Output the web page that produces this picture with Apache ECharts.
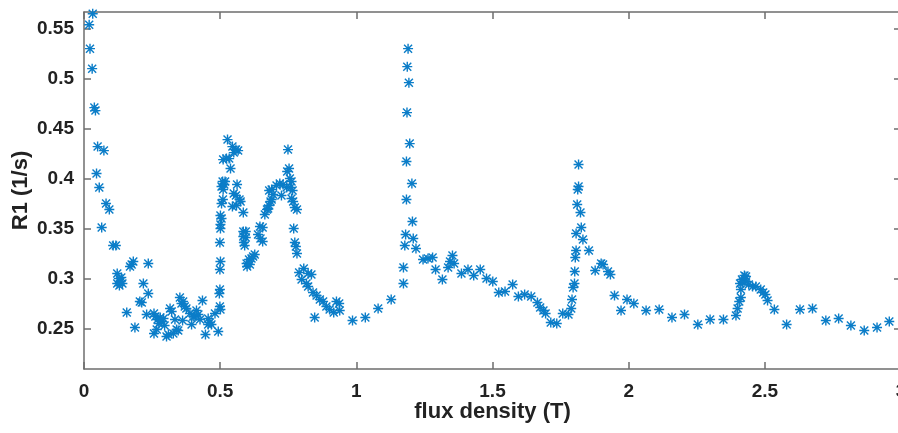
<!DOCTYPE html>
<html><head><meta charset="utf-8">
<script src="https://cdn.jsdelivr.net/npm/echarts@6/dist/echarts.min.js"></script>
<style>html,body{margin:0;padding:0;background:#fff}#c{width:898px;height:433px}</style>
</head><body><div id="c"></div><script>
const fluxDensity = [
0.019,0.032,0.022,0.030,0.038,0.042,0.046,0.050,0.056,0.065,0.073,0.081,0.093,0.107,0.117,0.122,0.122,0.128,0.130,0.134,0.137,0.141,0.157,0.169,0.175,0.181,0.187,0.205,0.212,0.218,0.230,0.236,0.236,
0.257,0.257,0.262,0.267,0.270,0.275,0.280,0.285,0.292,0.296,0.303,0.310,0.316,0.322,0.328,0.334,0.340,0.346,0.352,0.358,0.364,0.370,0.376,0.362,0.389,0.395,0.401,0.407,0.413,0.420,0.426,0.435,0.446,0.456,0.462,0.468,0.456,0.481,0.493,
0.499,0.501,0.497,0.499,0.499,0.501,0.499,0.501,0.501,0.505,0.501,0.505,0.510,0.505,0.511,0.509,0.515,0.518,0.511,0.523,0.533,0.527,0.538,0.545,0.550,0.558,0.566,0.562,0.550,0.558,0.545,0.560,0.571,0.575,0.585,
0.585,0.594,0.585,0.594,0.587,0.590,0.597,0.599,0.606,0.609,0.615,0.621,0.627,0.639,0.646,0.648,0.656,0.656,0.664,0.672,0.676,0.680,0.685,0.689,0.694,0.680,0.689,0.707,0.719,0.731,0.725,0.744,0.749,0.746,0.753,0.756,0.762,0.758,0.766,0.762,0.768,0.774,0.782,0.770,0.774,0.778,0.782,
0.790,0.799,0.807,0.817,0.823,0.823,0.835,0.841,0.847,0.854,0.866,0.878,0.890,0.902,0.917,0.927,0.937,0.939,0.986,1.033,1.080,1.128,1.173,1.173,1.178,1.181,1.184,1.184,1.186,1.187,1.190,1.193,1.196,1.204,1.206,1.209,1.219,
1.245,1.263,1.280,1.291,1.316,1.337,1.344,1.353,1.359,1.386,1.410,1.431,1.455,1.478,
1.501,1.523,1.546,1.574,1.595,1.618,1.642,1.665,1.675,1.687,1.695,1.714,1.736,1.758,1.779,1.789,1.792,1.796,1.801,1.802,1.804,1.807,1.807,1.811,1.813,1.816,1.816,1.823,1.826,1.832,1.854,1.877,1.899,1.906,1.924,1.933,1.948,1.972,1.994,2.019,2.064,2.112,
2.159,2.205,2.254,2.299,2.348,2.394,2.400,2.406,2.412,2.412,2.409,2.416,2.419,2.425,2.431,2.431,2.441,2.455,2.467,2.485,2.494,2.502,2.510,2.535,2.580,2.629,2.675,2.724,2.771,2.816,2.865,2.912,2.957
];
const r1 = [
0.554,0.565,0.530,0.510,0.471,0.468,0.405,0.432,0.391,0.351,0.428,0.375,0.369,0.333,0.333,0.305,0.295,0.300,0.293,0.297,0.301,0.295,0.266,0.312,0.314,0.317,0.251,0.277,0.276,0.295,0.264,0.315,0.285,
0.245,0.265,0.262,0.249,0.259,0.255,0.261,0.257,0.260,0.253,0.242,0.244,0.270,0.267,0.245,0.259,0.249,0.248,0.281,0.275,0.277,0.272,0.270,0.258,0.265,0.254,0.262,0.262,0.268,0.264,0.259,0.278,0.244,0.260,0.256,0.254,0.254,0.265,0.247,
0.272,0.269,0.285,0.289,0.309,0.317,0.336,0.350,0.354,0.360,0.363,0.375,0.379,0.392,0.389,0.397,0.394,0.397,0.419,0.420,0.420,0.439,0.410,0.432,0.426,0.429,0.428,0.394,0.385,0.383,0.372,0.373,0.379,0.377,0.366,
0.347,0.347,0.342,0.341,0.336,0.333,0.315,0.312,0.319,0.314,0.320,0.322,0.324,0.344,0.352,0.340,0.351,0.337,0.364,0.369,0.370,0.373,0.377,0.379,0.384,0.388,0.389,0.393,0.395,0.394,0.383,0.391,0.429,0.407,0.410,0.400,0.397,0.391,0.388,0.380,0.377,0.371,0.369,0.350,0.336,0.332,0.325,
0.306,0.299,0.310,0.295,0.305,0.292,0.304,0.286,0.261,0.283,0.279,0.277,0.272,0.269,0.266,0.277,0.275,0.268,0.258,0.261,0.270,0.279,0.295,0.311,0.333,0.344,0.379,0.417,0.466,0.512,0.530,0.496,0.435,0.395,0.357,0.340,0.330,
0.319,0.320,0.321,0.309,0.299,0.311,0.317,0.323,0.315,0.305,0.309,0.303,0.309,0.300,
0.297,0.286,0.287,0.294,0.282,0.284,0.282,0.276,0.271,0.268,0.265,0.256,0.255,0.265,0.264,0.270,0.279,0.291,0.295,0.307,0.321,0.328,0.345,0.374,0.389,0.392,0.414,0.366,0.351,0.339,0.328,0.308,0.315,0.314,0.307,0.304,0.283,0.268,0.279,0.275,0.268,0.269,
0.261,0.264,0.254,0.259,0.259,0.263,0.270,0.277,0.281,0.289,0.295,0.299,0.297,0.303,0.302,0.297,0.294,0.292,0.292,0.289,0.286,0.284,0.278,0.269,0.254,0.269,0.270,0.258,0.260,0.253,0.248,0.251,0.257
];
const xTicks = [0, 0.5, 1, 1.5, 2, 2.5, 3];
const yTicks = [0.25, 0.3, 0.35, 0.4, 0.45, 0.5, 0.55];

const points = fluxDensity.map((x, i) => [x, r1[i]]);
const FONT = 'Liberation Sans, Arial, sans-serif';
const axisColor = '#6e6e6e';
const textColor = '#222';
const STAR = 'path://M8.6,0L11.4,0L11.4,20L8.6,20Z M0,8.6L20,8.6L20,11.4L0,11.4Z M1.0,3.0L3.0,1.0L19.0,17.0L17.0,19.0Z M17.0,1.0L19.0,3.0L3.0,19.0L1.0,17.0Z';

const chart = echarts.init(document.getElementById('c'), null, {renderer: 'canvas'});
const lineStyle = {color: axisColor, width: 1.5};
chart.setOption({
  animation: false,
  backgroundColor: '#fff',
  grid: {left: 84, right: -3, top: 12, bottom: 64, containLabel: false, outerBoundsMode: 'none'},
  xAxis: [{
    type: 'value', min: 0, max: 3, interval: 0.5, position: 'bottom',
    axisLine: {show: true, onZero: false, lineStyle},
    axisTick: {show: true, inside: true, length: 7, lineStyle, customValues: xTicks},
    axisLabel: {margin: 13, fontSize: 19, fontWeight: 'bold', color: textColor, fontFamily: FONT, customValues: xTicks, formatter: v => String(+(+v).toFixed(2))},
    splitLine: {show: false},
    name: 'flux density (T)', nameLocation: 'middle', nameGap: 32, nameMoveOverlap: false,
    nameTextStyle: {fontSize: 22, fontWeight: 'bold', color: textColor, fontFamily: FONT}
  }, {
    type: 'value', min: 0, max: 3, interval: 0.5, position: 'top',
    axisLine: {show: true, onZero: false, lineStyle},
    axisTick: {show: true, inside: true, length: 7, lineStyle, customValues: xTicks},
    axisLabel: {show: false}, splitLine: {show: false}
  }],
  yAxis: [{
    type: 'value', min: 0.2094, max: 0.5667, position: 'left',
    axisLine: {show: true, onZero: false, lineStyle},
    axisTick: {show: true, inside: true, length: 7, lineStyle, customValues: yTicks},
    axisLabel: {margin: 10, fontSize: 19, fontWeight: 'bold', color: textColor, fontFamily: FONT, customValues: yTicks, formatter: v => String(+(+v).toFixed(2))},
    splitLine: {show: false},
    name: 'R1 (1/s)', nameLocation: 'middle', nameGap: 52, nameRotate: 90, nameMoveOverlap: false,
    nameTextStyle: {fontSize: 22, fontWeight: 'bold', color: textColor, fontFamily: FONT}
  }, {
    type: 'value', min: 0.2094, max: 0.5667, position: 'right',
    axisLine: {show: true, onZero: false, lineStyle},
    axisTick: {show: true, inside: true, length: 7, lineStyle, customValues: yTicks},
    axisLabel: {show: false}, splitLine: {show: false}
  }],
  series: [{
    type: 'scatter', xAxisIndex: 0, yAxisIndex: 0,
    data: points, symbol: STAR, symbolSize: 10,
    itemStyle: {color: '#0b7dc8', opacity: 1},
    emphasis: {disabled: true}
  }]
});
</script></body></html>
